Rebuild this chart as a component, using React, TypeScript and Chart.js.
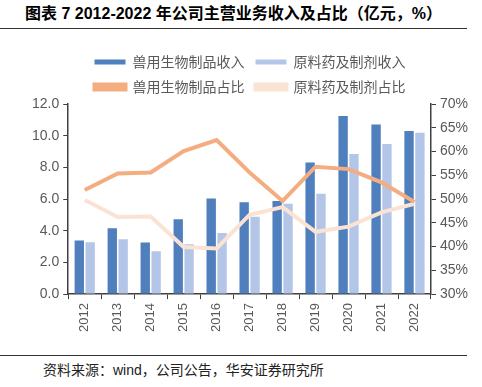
import React, { useEffect, useRef } from "react";
import { Chart, registerables } from "chart.js";

Chart.register(...registerables);

const years = ["2012", "2013", "2014", "2015", "2016", "2017", "2018", "2019", "2020", "2021", "2022"];
const bioRevenue = [3.39, 4.16, 3.25, 4.73, 6.04, 5.79, 5.88, 8.31, 11.25, 10.7, 10.3];
const apiRevenue = [3.27, 3.46, 2.7, 3.15, 3.85, 4.88, 5.7, 6.33, 8.85, 9.48, 10.19];
const bioShare = [51.9, 55.4, 55.6, 60.1, 62.4, 55.6, 49.6, 56.8, 56.3, 53.5, 49.4];
const apiShare = [49.8, 46.2, 46.3, 39.9, 39.6, 46.7, 48.3, 43.1, 44.2, 47.2, 49.0];
const leftTicks = { min: 0, max: 12, step: 2 };
const rightTicks = { min: 30, max: 70, step: 5 };

const labelFont = "'Liberation Sans', 'Noto Sans CJK SC', sans-serif";

function App() {
  const ref = useRef<HTMLCanvasElement | null>(null);

  useEffect(() => {
    document.body.style.margin = "0";
    if (!ref.current) return;
    const chart = new Chart(ref.current, {
      type: "bar",
      data: {
        labels: years,
        datasets: [
          {
            type: "bar",
            label: "兽用生物制品收入",
            data: bioRevenue,
            backgroundColor: "#4F7FBC",
            yAxisID: "y",
            order: 2,
            categoryPercentage: 0.66,
            barPercentage: 0.86,
          },
          {
            type: "bar",
            label: "原料药及制剂收入",
            data: apiRevenue,
            backgroundColor: "#B4C6E7",
            yAxisID: "y",
            order: 2,
            categoryPercentage: 0.66,
            barPercentage: 0.86,
          },
          {
            type: "line",
            label: "兽用生物制品占比",
            data: bioShare,
            borderColor: "#F4AD80",
            backgroundColor: "#F4AD80",
            borderWidth: 4,
            pointRadius: 0,
            tension: 0,
            yAxisID: "y1",
            order: 1,
          },
          {
            type: "line",
            label: "原料药及制剂占比",
            data: apiShare,
            borderColor: "#FBE3D4",
            backgroundColor: "#FBE3D4",
            borderWidth: 4,
            pointRadius: 0,
            tension: 0,
            yAxisID: "y1",
            order: 1,
          },
        ] as any,
      },
      options: {
        animation: false,
        responsive: false,
        layout: { padding: { top: 15, left: 28, right: 10, bottom: 19 } },
        plugins: {
          tooltip: { enabled: false },
          legend: {
            position: "top",
            labels: {
              boxWidth: 31,
              boxHeight: 5,
              padding: 11,
              color: "#595959",
              font: { size: 14, family: "'Noto Sans CJK SC', sans-serif" },
              sort: (a: any, b: any) => a.datasetIndex - b.datasetIndex,
            },
          },
        },
        scales: {
          x: {
            grid: { drawOnChartArea: false, drawTicks: true, tickLength: 5, color: "#404040" },
            border: { color: "#404040", width: 1.5 },
            ticks: {
              color: "#595959",
              font: { size: 13, family: labelFont },
              maxRotation: 90,
              minRotation: 90,
              padding: 4,
            },
          },
          y: {
            position: "left",
            min: leftTicks.min,
            max: leftTicks.max,
            grid: { drawOnChartArea: false, drawTicks: true, tickLength: 5, color: "#404040" },
            border: { color: "#404040", width: 1.5 },
            ticks: {
              stepSize: leftTicks.step,
              color: "#595959",
              font: { size: 14, family: labelFont },
              padding: 4,
              callback: (v: any) => Number(v).toFixed(1),
            },
          },
          y1: {
            position: "right",
            min: rightTicks.min,
            max: rightTicks.max,
            grid: { drawOnChartArea: false, drawTicks: true, tickLength: 5, color: "#404040" },
            border: { color: "#404040", width: 1.5 },
            ticks: {
              stepSize: rightTicks.step,
              color: "#595959",
              font: { size: 14, family: labelFont },
              padding: 4,
              callback: (v: any) => v + "%",
            },
          },
        },
      },
    });
    return () => chart.destroy();
  }, []);

  return (
    <div style={{ width: 482, fontFamily: labelFont }}>
      <div
        style={{
          width: 467,
          height: 28,
          lineHeight: "28px",
          textAlign: "center",
          fontWeight: "bold",
          fontSize: 16,
          color: "#000",
          borderBottom: "1px solid #333",
          fontFamily: "'Liberation Sans', 'Noto Sans CJK SC', sans-serif",
        }}
      >
        图表 7 2012-2022 年公司主营业务收入及占比（亿元，%）
      </div>
      <canvas ref={ref} width={482} height={326} style={{ display: "block" }} />
      <div
        style={{
          width: 467,
          borderTop: "1px solid #333",
          paddingLeft: 43,
          boxSizing: "border-box",
          fontSize: 14,
          lineHeight: "28px",
          color: "#222",
          fontFamily: "'Liberation Sans', 'Noto Sans CJK SC', sans-serif",
        }}
      >
        资料来源：wind，公司公告，华安证券研究所
      </div>
    </div>
  );
}

export default App;
